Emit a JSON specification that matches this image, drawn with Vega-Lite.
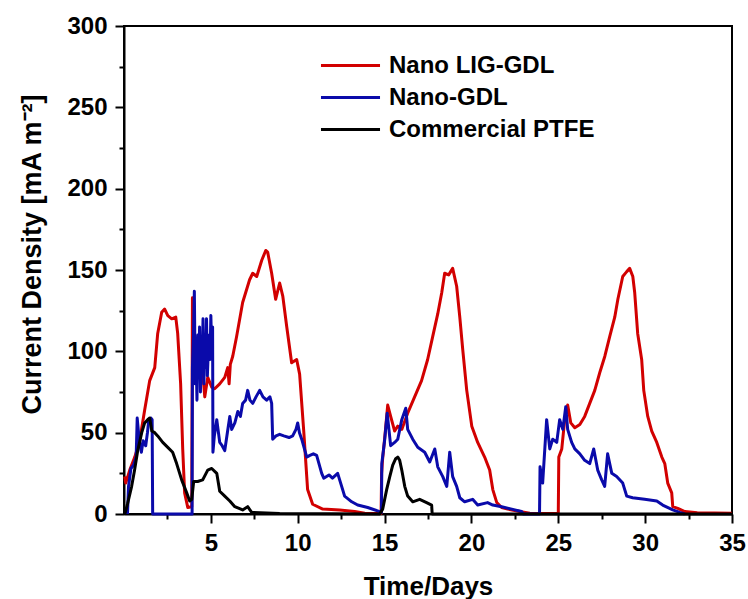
{
 "$schema": "https://vega.github.io/schema/vega-lite/v6.json",
 "width": 608, "height": 488,
 "autosize": {"type": "none"},
 "padding": {"left": 124, "top": 26, "right": 16, "bottom": 85},
 "background": "white",
 "config": {
  "font": "Liberation Sans",
  "view": {"stroke": "black", "strokeWidth": 2},
  "axis": {"domainColor": "black", "domainWidth": 2, "tickColor": "black", "tickWidth": 2,
   "labelFont": "Liberation Sans", "labelFontSize": 24, "labelFontWeight": "bold", "labelColor": "black",
   "titleFont": "Liberation Sans", "titleFontSize": 26, "titleFontWeight": "bold", "titleColor": "black",
   "grid": false, "labelOverlap": false, "labelFlush": false},
  "legend": {"orient": "none", "legendX": 213, "legendY": 26, "padding": 0,
   "symbolType": "M-2.46,0H2.46", "symbolSize": 576, "symbolStrokeWidth": 3,
   "labelFont": "Liberation Sans", "labelFontSize": 24, "labelFontWeight": "bold", "labelColor": "black",
   "labelOffset": 25, "rowPadding": 6, "labelLimit": 400}
 },
 "data": {"values": [
  {"series":"Nano LIG-GDL","day":0.04,"value":23},{"series":"Nano LIG-GDL","day":0.1,"value":19},{"series":"Nano LIG-GDL","day":0.33,"value":27},{"series":"Nano LIG-GDL","day":0.62,"value":35},{"series":"Nano LIG-GDL","day":0.9,"value":45},{"series":"Nano LIG-GDL","day":1.19,"value":64},{"series":"Nano LIG-GDL","day":1.48,"value":82},{"series":"Nano LIG-GDL","day":1.77,"value":90},{"series":"Nano LIG-GDL","day":1.94,"value":111},{"series":"Nano LIG-GDL","day":2.17,"value":124},{"series":"Nano LIG-GDL","day":2.34,"value":126},{"series":"Nano LIG-GDL","day":2.52,"value":122},{"series":"Nano LIG-GDL","day":2.75,"value":120},{"series":"Nano LIG-GDL","day":2.98,"value":121},{"series":"Nano LIG-GDL","day":3.09,"value":111},{"series":"Nano LIG-GDL","day":3.26,"value":80},{"series":"Nano LIG-GDL","day":3.38,"value":40},{"series":"Nano LIG-GDL","day":3.49,"value":13},{"series":"Nano LIG-GDL","day":3.67,"value":4},{"series":"Nano LIG-GDL","day":3.9,"value":4.5},{"series":"Nano LIG-GDL","day":3.94,"value":133},{"series":"Nano LIG-GDL","day":3.98,"value":120},{"series":"Nano LIG-GDL","day":4.05,"value":100},{"series":"Nano LIG-GDL","day":4.15,"value":108},{"series":"Nano LIG-GDL","day":4.3,"value":92},{"series":"Nano LIG-GDL","day":4.45,"value":95},{"series":"Nano LIG-GDL","day":4.53,"value":87},{"series":"Nano LIG-GDL","day":4.65,"value":72},{"series":"Nano LIG-GDL","day":4.82,"value":84},{"series":"Nano LIG-GDL","day":5.05,"value":78},{"series":"Nano LIG-GDL","day":5.22,"value":77},{"series":"Nano LIG-GDL","day":5.51,"value":80},{"series":"Nano LIG-GDL","day":5.8,"value":84},{"series":"Nano LIG-GDL","day":5.97,"value":90},{"series":"Nano LIG-GDL","day":6.05,"value":80},{"series":"Nano LIG-GDL","day":6.12,"value":92},{"series":"Nano LIG-GDL","day":6.26,"value":97},{"series":"Nano LIG-GDL","day":6.48,"value":109},{"series":"Nano LIG-GDL","day":6.83,"value":130},{"series":"Nano LIG-GDL","day":7.23,"value":144},{"series":"Nano LIG-GDL","day":7.41,"value":148},{"series":"Nano LIG-GDL","day":7.64,"value":146},{"series":"Nano LIG-GDL","day":7.93,"value":156},{"series":"Nano LIG-GDL","day":8.16,"value":162},{"series":"Nano LIG-GDL","day":8.27,"value":161},{"series":"Nano LIG-GDL","day":8.5,"value":148},{"series":"Nano LIG-GDL","day":8.73,"value":132},{"series":"Nano LIG-GDL","day":8.96,"value":142},{"series":"Nano LIG-GDL","day":9.14,"value":134},{"series":"Nano LIG-GDL","day":9.37,"value":115},{"series":"Nano LIG-GDL","day":9.65,"value":93},{"series":"Nano LIG-GDL","day":9.94,"value":95},{"series":"Nano LIG-GDL","day":10.11,"value":86},{"series":"Nano LIG-GDL","day":10.34,"value":52},{"series":"Nano LIG-GDL","day":10.57,"value":15},{"series":"Nano LIG-GDL","day":10.86,"value":6},{"series":"Nano LIG-GDL","day":11.44,"value":3},{"series":"Nano LIG-GDL","day":12.42,"value":2.5},{"series":"Nano LIG-GDL","day":13.28,"value":1.5},{"series":"Nano LIG-GDL","day":13.86,"value":0.5},{"series":"Nano LIG-GDL","day":14.8,"value":0.3},{"series":"Nano LIG-GDL","day":14.83,"value":25},{"series":"Nano LIG-GDL","day":14.88,"value":33},{"series":"Nano LIG-GDL","day":15.01,"value":47},{"series":"Nano LIG-GDL","day":15.18,"value":67},{"series":"Nano LIG-GDL","day":15.35,"value":60},{"series":"Nano LIG-GDL","day":15.58,"value":51},{"series":"Nano LIG-GDL","day":15.76,"value":54},{"series":"Nano LIG-GDL","day":15.99,"value":52},{"series":"Nano LIG-GDL","day":16.33,"value":62},{"series":"Nano LIG-GDL","day":16.73,"value":72},{"series":"Nano LIG-GDL","day":17.13,"value":82},{"series":"Nano LIG-GDL","day":17.48,"value":95},{"series":"Nano LIG-GDL","day":17.77,"value":109},{"series":"Nano LIG-GDL","day":18.06,"value":123},{"series":"Nano LIG-GDL","day":18.29,"value":136},{"series":"Nano LIG-GDL","day":18.46,"value":148},{"series":"Nano LIG-GDL","day":18.69,"value":147},{"series":"Nano LIG-GDL","day":18.92,"value":151},{"series":"Nano LIG-GDL","day":19.15,"value":140},{"series":"Nano LIG-GDL","day":19.33,"value":121},{"series":"Nano LIG-GDL","day":19.5,"value":101},{"series":"Nano LIG-GDL","day":19.73,"value":76},{"series":"Nano LIG-GDL","day":20.02,"value":54},{"series":"Nano LIG-GDL","day":20.36,"value":44},{"series":"Nano LIG-GDL","day":20.76,"value":35},{"series":"Nano LIG-GDL","day":21.05,"value":27},{"series":"Nano LIG-GDL","day":21.23,"value":15},{"series":"Nano LIG-GDL","day":21.46,"value":7},{"series":"Nano LIG-GDL","day":21.74,"value":4},{"series":"Nano LIG-GDL","day":22.09,"value":3},{"series":"Nano LIG-GDL","day":22.78,"value":1.5},{"series":"Nano LIG-GDL","day":23.36,"value":0.5},{"series":"Nano LIG-GDL","day":25.0,"value":0.3},{"series":"Nano LIG-GDL","day":25.03,"value":35},{"series":"Nano LIG-GDL","day":25.2,"value":40},{"series":"Nano LIG-GDL","day":25.37,"value":58},{"series":"Nano LIG-GDL","day":25.54,"value":67},{"series":"Nano LIG-GDL","day":25.72,"value":56},{"series":"Nano LIG-GDL","day":25.95,"value":53},{"series":"Nano LIG-GDL","day":26.24,"value":55},{"series":"Nano LIG-GDL","day":26.52,"value":60},{"series":"Nano LIG-GDL","day":26.81,"value":68},{"series":"Nano LIG-GDL","day":27.1,"value":76},{"series":"Nano LIG-GDL","day":27.39,"value":87},{"series":"Nano LIG-GDL","day":27.68,"value":97},{"series":"Nano LIG-GDL","day":27.96,"value":109},{"series":"Nano LIG-GDL","day":28.25,"value":121},{"series":"Nano LIG-GDL","day":28.43,"value":132},{"series":"Nano LIG-GDL","day":28.71,"value":146},{"series":"Nano LIG-GDL","day":28.94,"value":149},{"series":"Nano LIG-GDL","day":29.11,"value":151},{"series":"Nano LIG-GDL","day":29.29,"value":146},{"series":"Nano LIG-GDL","day":29.4,"value":136},{"series":"Nano LIG-GDL","day":29.57,"value":111},{"series":"Nano LIG-GDL","day":29.8,"value":95},{"series":"Nano LIG-GDL","day":29.92,"value":76},{"series":"Nano LIG-GDL","day":30.15,"value":60},{"series":"Nano LIG-GDL","day":30.38,"value":51},{"series":"Nano LIG-GDL","day":30.67,"value":44},{"series":"Nano LIG-GDL","day":30.96,"value":35},{"series":"Nano LIG-GDL","day":31.13,"value":31},{"series":"Nano LIG-GDL","day":31.3,"value":19},{"series":"Nano LIG-GDL","day":31.53,"value":13},{"series":"Nano LIG-GDL","day":31.59,"value":4.5},{"series":"Nano LIG-GDL","day":31.88,"value":3.5},{"series":"Nano LIG-GDL","day":32.28,"value":1.5},{"series":"Nano LIG-GDL","day":33.0,"value":0.8},{"series":"Nano LIG-GDL","day":35.0,"value":0.5},
  {"series":"Nano-GDL","day":0.2,"value":0},{"series":"Nano-GDL","day":0.26,"value":17},{"series":"Nano-GDL","day":0.4,"value":28},{"series":"Nano-GDL","day":0.55,"value":30},{"series":"Nano-GDL","day":0.7,"value":35},{"series":"Nano-GDL","day":0.76,"value":59},{"series":"Nano-GDL","day":0.88,"value":45},{"series":"Nano-GDL","day":1.0,"value":38},{"series":"Nano-GDL","day":1.1,"value":45},{"series":"Nano-GDL","day":1.25,"value":42},{"series":"Nano-GDL","day":1.35,"value":50},{"series":"Nano-GDL","day":1.42,"value":57},{"series":"Nano-GDL","day":1.55,"value":59},{"series":"Nano-GDL","day":1.62,"value":58},{"series":"Nano-GDL","day":1.65,"value":0},{"series":"Nano-GDL","day":3.92,"value":0},{"series":"Nano-GDL","day":3.94,"value":90},{"series":"Nano-GDL","day":4.0,"value":110},{"series":"Nano-GDL","day":4.05,"value":137},{"series":"Nano-GDL","day":4.1,"value":80},{"series":"Nano-GDL","day":4.15,"value":100},{"series":"Nano-GDL","day":4.2,"value":70},{"series":"Nano-GDL","day":4.25,"value":110},{"series":"Nano-GDL","day":4.3,"value":85},{"series":"Nano-GDL","day":4.35,"value":115},{"series":"Nano-GDL","day":4.4,"value":75},{"series":"Nano-GDL","day":4.45,"value":105},{"series":"Nano-GDL","day":4.5,"value":95},{"series":"Nano-GDL","day":4.55,"value":120},{"series":"Nano-GDL","day":4.6,"value":80},{"series":"Nano-GDL","day":4.65,"value":110},{"series":"Nano-GDL","day":4.7,"value":90},{"series":"Nano-GDL","day":4.75,"value":120},{"series":"Nano-GDL","day":4.8,"value":85},{"series":"Nano-GDL","day":4.85,"value":100},{"series":"Nano-GDL","day":4.9,"value":110},{"series":"Nano-GDL","day":4.95,"value":95},{"series":"Nano-GDL","day":5.0,"value":122},{"series":"Nano-GDL","day":5.05,"value":100},{"series":"Nano-GDL","day":5.1,"value":115},{"series":"Nano-GDL","day":5.12,"value":38},{"series":"Nano-GDL","day":5.2,"value":48},{"series":"Nano-GDL","day":5.34,"value":58},{"series":"Nano-GDL","day":5.51,"value":44},{"series":"Nano-GDL","day":5.65,"value":42},{"series":"Nano-GDL","day":5.8,"value":39},{"series":"Nano-GDL","day":5.95,"value":50},{"series":"Nano-GDL","day":6.09,"value":60},{"series":"Nano-GDL","day":6.2,"value":52},{"series":"Nano-GDL","day":6.38,"value":56},{"series":"Nano-GDL","day":6.55,"value":63},{"series":"Nano-GDL","day":6.7,"value":60},{"series":"Nano-GDL","day":6.83,"value":68},{"series":"Nano-GDL","day":7.0,"value":70},{"series":"Nano-GDL","day":7.12,"value":76},{"series":"Nano-GDL","day":7.25,"value":70},{"series":"Nano-GDL","day":7.41,"value":68},{"series":"Nano-GDL","day":7.6,"value":72},{"series":"Nano-GDL","day":7.81,"value":76},{"series":"Nano-GDL","day":8.0,"value":72},{"series":"Nano-GDL","day":8.21,"value":70},{"series":"Nano-GDL","day":8.4,"value":72},{"series":"Nano-GDL","day":8.5,"value":68},{"series":"Nano-GDL","day":8.56,"value":46},{"series":"Nano-GDL","day":8.75,"value":48},{"series":"Nano-GDL","day":8.96,"value":49},{"series":"Nano-GDL","day":9.2,"value":48},{"series":"Nano-GDL","day":9.5,"value":47},{"series":"Nano-GDL","day":9.71,"value":48},{"series":"Nano-GDL","day":9.9,"value":52},{"series":"Nano-GDL","day":10.0,"value":56},{"series":"Nano-GDL","day":10.1,"value":50},{"series":"Nano-GDL","day":10.23,"value":46},{"series":"Nano-GDL","day":10.52,"value":35},{"series":"Nano-GDL","day":10.7,"value":36},{"series":"Nano-GDL","day":10.9,"value":37},{"series":"Nano-GDL","day":11.09,"value":36},{"series":"Nano-GDL","day":11.38,"value":25},{"series":"Nano-GDL","day":11.5,"value":22},{"series":"Nano-GDL","day":11.8,"value":24},{"series":"Nano-GDL","day":12.0,"value":22},{"series":"Nano-GDL","day":12.3,"value":25},{"series":"Nano-GDL","day":12.53,"value":17},{"series":"Nano-GDL","day":12.7,"value":11},{"series":"Nano-GDL","day":13.11,"value":7.5},{"series":"Nano-GDL","day":13.45,"value":5.5},{"series":"Nano-GDL","day":14.03,"value":4},{"series":"Nano-GDL","day":14.72,"value":1.5},{"series":"Nano-GDL","day":14.82,"value":1},{"series":"Nano-GDL","day":14.84,"value":31},{"series":"Nano-GDL","day":15.0,"value":45},{"series":"Nano-GDL","day":15.15,"value":62},{"series":"Nano-GDL","day":15.35,"value":42},{"series":"Nano-GDL","day":15.58,"value":44},{"series":"Nano-GDL","day":15.76,"value":46},{"series":"Nano-GDL","day":15.99,"value":58},{"series":"Nano-GDL","day":16.22,"value":65},{"series":"Nano-GDL","day":16.33,"value":52},{"series":"Nano-GDL","day":16.62,"value":46},{"series":"Nano-GDL","day":16.91,"value":41},{"series":"Nano-GDL","day":17.31,"value":38},{"series":"Nano-GDL","day":17.6,"value":32},{"series":"Nano-GDL","day":17.89,"value":40},{"series":"Nano-GDL","day":18.06,"value":29},{"series":"Nano-GDL","day":18.35,"value":23},{"series":"Nano-GDL","day":18.58,"value":17},{"series":"Nano-GDL","day":18.75,"value":38},{"series":"Nano-GDL","day":18.92,"value":23},{"series":"Nano-GDL","day":19.15,"value":17},{"series":"Nano-GDL","day":19.33,"value":10},{"series":"Nano-GDL","day":19.61,"value":7.5},{"series":"Nano-GDL","day":20.07,"value":9},{"series":"Nano-GDL","day":20.36,"value":5.5},{"series":"Nano-GDL","day":20.93,"value":7},{"series":"Nano-GDL","day":21.23,"value":5.5},{"series":"Nano-GDL","day":21.74,"value":4.5},{"series":"Nano-GDL","day":22.32,"value":3},{"series":"Nano-GDL","day":22.89,"value":1.5},{"series":"Nano-GDL","day":23.0,"value":0},{"series":"Nano-GDL","day":23.92,"value":0},{"series":"Nano-GDL","day":23.95,"value":29},{"series":"Nano-GDL","day":24.1,"value":19},{"series":"Nano-GDL","day":24.33,"value":58},{"series":"Nano-GDL","day":24.51,"value":40},{"series":"Nano-GDL","day":24.68,"value":46},{"series":"Nano-GDL","day":24.91,"value":44},{"series":"Nano-GDL","day":25.08,"value":58},{"series":"Nano-GDL","day":25.26,"value":52},{"series":"Nano-GDL","day":25.43,"value":66},{"series":"Nano-GDL","day":25.54,"value":52},{"series":"Nano-GDL","day":25.77,"value":44},{"series":"Nano-GDL","day":25.95,"value":40},{"series":"Nano-GDL","day":26.24,"value":37},{"series":"Nano-GDL","day":26.52,"value":33},{"series":"Nano-GDL","day":26.81,"value":31},{"series":"Nano-GDL","day":27.04,"value":40},{"series":"Nano-GDL","day":27.27,"value":27},{"series":"Nano-GDL","day":27.5,"value":21},{"series":"Nano-GDL","day":27.67,"value":17},{"series":"Nano-GDL","day":27.84,"value":37},{"series":"Nano-GDL","day":28.08,"value":25},{"series":"Nano-GDL","day":28.36,"value":23},{"series":"Nano-GDL","day":28.71,"value":19},{"series":"Nano-GDL","day":28.94,"value":11},{"series":"Nano-GDL","day":29.28,"value":10},{"series":"Nano-GDL","day":29.97,"value":9},{"series":"Nano-GDL","day":30.67,"value":8},{"series":"Nano-GDL","day":31.01,"value":5.5},{"series":"Nano-GDL","day":31.59,"value":2.5},{"series":"Nano-GDL","day":31.99,"value":1},{"series":"Nano-GDL","day":32.28,"value":0},
  {"series":"Commercial PTFE","day":0.05,"value":0},{"series":"Commercial PTFE","day":0.21,"value":6.5},{"series":"Commercial PTFE","day":0.44,"value":17},{"series":"Commercial PTFE","day":0.61,"value":27},{"series":"Commercial PTFE","day":0.79,"value":39},{"series":"Commercial PTFE","day":1.02,"value":50},{"series":"Commercial PTFE","day":1.19,"value":56},{"series":"Commercial PTFE","day":1.36,"value":58},{"series":"Commercial PTFE","day":1.48,"value":59},{"series":"Commercial PTFE","day":1.6,"value":51},{"series":"Commercial PTFE","day":1.77,"value":50},{"series":"Commercial PTFE","day":1.94,"value":48},{"series":"Commercial PTFE","day":2.23,"value":44},{"series":"Commercial PTFE","day":2.52,"value":41},{"series":"Commercial PTFE","day":2.8,"value":38},{"series":"Commercial PTFE","day":3.03,"value":31},{"series":"Commercial PTFE","day":3.32,"value":21},{"series":"Commercial PTFE","day":3.61,"value":13},{"series":"Commercial PTFE","day":3.78,"value":8},{"series":"Commercial PTFE","day":3.9,"value":9},{"series":"Commercial PTFE","day":4.01,"value":20},{"series":"Commercial PTFE","day":4.24,"value":20},{"series":"Commercial PTFE","day":4.53,"value":21},{"series":"Commercial PTFE","day":4.82,"value":27},{"series":"Commercial PTFE","day":5.05,"value":28},{"series":"Commercial PTFE","day":5.34,"value":25},{"series":"Commercial PTFE","day":5.51,"value":14},{"series":"Commercial PTFE","day":5.8,"value":11},{"series":"Commercial PTFE","day":6.09,"value":8},{"series":"Commercial PTFE","day":6.38,"value":4.5},{"series":"Commercial PTFE","day":6.83,"value":2.5},{"series":"Commercial PTFE","day":7.12,"value":4.5},{"series":"Commercial PTFE","day":7.35,"value":1},{"series":"Commercial PTFE","day":8.96,"value":0.3},{"series":"Commercial PTFE","day":14.72,"value":0},{"series":"Commercial PTFE","day":14.89,"value":3},{"series":"Commercial PTFE","day":15.12,"value":15},{"series":"Commercial PTFE","day":15.3,"value":23},{"series":"Commercial PTFE","day":15.47,"value":30},{"series":"Commercial PTFE","day":15.64,"value":34},{"series":"Commercial PTFE","day":15.76,"value":35},{"series":"Commercial PTFE","day":15.87,"value":33},{"series":"Commercial PTFE","day":15.99,"value":27},{"series":"Commercial PTFE","day":16.16,"value":17},{"series":"Commercial PTFE","day":16.33,"value":11},{"series":"Commercial PTFE","day":16.62,"value":7.5},{"series":"Commercial PTFE","day":17.02,"value":9},{"series":"Commercial PTFE","day":17.42,"value":7},{"series":"Commercial PTFE","day":17.71,"value":5.5},{"series":"Commercial PTFE","day":17.74,"value":0},{"series":"Commercial PTFE","day":35.0,"value":0}
 ]},
 "encoding": {
  "x": {"field": "day", "type": "quantitative",
   "scale": {"domain": [0, 35], "nice": false, "zero": false},
   "axis": {"title": "Time/Days", "values": [2.5,5,7.5,10,12.5,15,17.5,20,22.5,25,27.5,30,32.5,35],
    "labelExpr": "datum.value % 5 === 0 ? datum.label : ''",
    "tickSize": {"condition": {"test": "datum.value % 5 === 0", "value": 9}, "value": 5},
    "labelPadding": 8, "titlePadding": 18}},
  "y": {"field": "value", "type": "quantitative",
   "scale": {"domain": [0, 300], "nice": false},
   "axis": {"title": "Current Density [mA m⁻²]", "values": [0,25,50,75,100,125,150,175,200,225,250,275,300],
    "labelExpr": "datum.value % 50 === 0 ? datum.label : ''",
    "tickSize": {"condition": {"test": "datum.value % 50 === 0", "value": 9}, "value": 5},
    "labelPadding": 8, "titlePadding": 20, "titleFontSize": 27, "titleY": 228}},
  "color": {"field": "series", "type": "nominal",
   "scale": {"domain": ["Nano LIG-GDL", "Nano-GDL", "Commercial PTFE"], "range": ["#d20000", "#0a0aaa", "#000000"]},
   "legend": {"title": null}}
 },
 "layer": [
  {"transform": [{"filter": "datum.series === 'Nano LIG-GDL'"}], "mark": {"type": "line", "strokeWidth": 3, "strokeJoin": "round"}},
  {"transform": [{"filter": "datum.series === 'Nano-GDL'"}], "mark": {"type": "line", "strokeWidth": 3, "strokeJoin": "round"}},
  {"transform": [{"filter": "datum.series === 'Commercial PTFE'"}], "mark": {"type": "line", "strokeWidth": 3, "strokeJoin": "round"}}
 ]
}
